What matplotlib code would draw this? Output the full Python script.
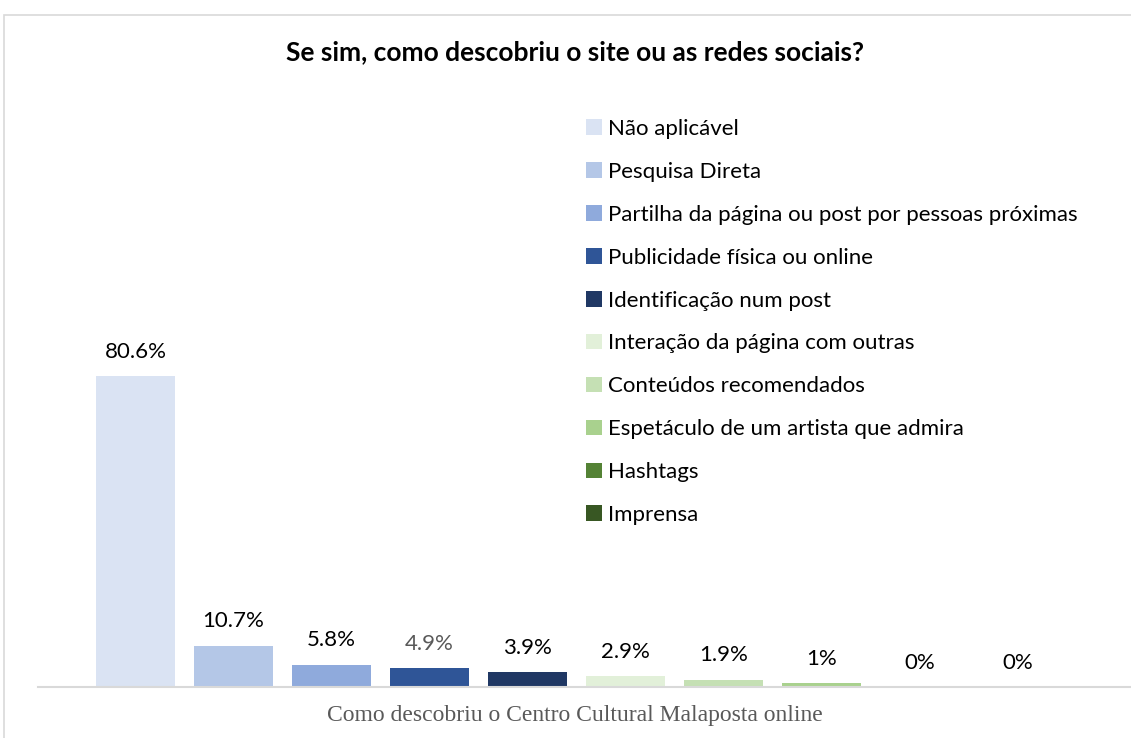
import matplotlib.pyplot as plt
from matplotlib.patches import Rectangle, Patch

# Data
categorias = ['Não aplicável', 'Pesquisa Direta',
              'Partilha da página ou post por pessoas próximas',
              'Publicidade física ou online', 'Identificação num post',
              'Interação da página com outras', 'Conteúdos recomendados',
              'Espetáculo de um artista que admira', 'Hashtags', 'Imprensa']
valores = [80.6, 10.7, 5.8, 4.9, 3.9, 2.9, 1.9, 1.0, 0.0, 0.0]
rotulos = ['80.6%', '10.7%', '5.8%', '4.9%', '3.9%', '2.9%', '1.9%', '1%', '0%', '0%']
cores = ['#DAE3F3', '#B4C7E7', '#8FAADC', '#2F5597', '#203864',
         '#E2F0D9', '#C5E0B4', '#A9D18E', '#548235', '#385723']
cores_rotulo = ['#000000', '#000000', '#000000', '#595959', '#000000',
                '#000000', '#000000', '#000000', '#000000', '#000000']

W, H = 1131, 738
fig = plt.figure(figsize=(W / 100, H / 100), dpi=100)
plt.rcParams['font.family'] = ['Lato', 'DejaVu Sans']

# outer chart border
fig.patches.append(Rectangle((4 / W, -0.1), 1.2, (738 - 15) / H + 0.1,
                             transform=fig.transFigure, fill=False,
                             edgecolor='#D9D9D9', linewidth=1.2))

# axes: left at 38px, baseline at 687px, top at 100px
ax = fig.add_axes([38 / W, (H - 687) / H, (W - 38) / W, (687 - 100) / H])
ax.set_facecolor('none')
pos = list(range(len(valores)))
ax.bar(pos, valores, width=0.806, color=cores)
ax.set_xlim((38 - 135.5) / 98, (W - 135.5) / 98)
ax.set_ylim(0, (687 - 100) / 3.855)

for x, v, r, c in zip(pos, valores, rotulos, cores_rotulo):
    ax.annotate(r, (x, v), xytext=(0, 17.5), textcoords='offset points',
                ha='center', va='center', fontsize=16, color=c)

for s in ['top', 'right', 'left']:
    ax.spines[s].set_visible(False)
ax.spines['bottom'].set_color('#D9D9D9')
ax.spines['bottom'].set_linewidth(1.5)
ax.set_xticks([])
ax.set_yticks([])

handles = [Patch(facecolor=c, edgecolor='none') for c in cores]
fig.legend(handles, categorias, loc='upper left',
           bbox_to_anchor=(566 / W, (H - 99) / H), frameon=False,
           fontsize=16, handlelength=0.7, handleheight=0.7,
           handletextpad=0.3, labelspacing=1.03)

fig.text(575 / W, 1 - 52 / H, 'Se sim, como descobriu o site ou as redes sociais?',
         ha='center', va='center', fontsize=19, fontweight='bold')
fig.text(575 / W, 1 - 716 / H, 'Como descobriu o Centro Cultural Malaposta online',
         ha='center', va='center', fontsize=17, color='#595959',
         family='Liberation Serif')

fig.savefig('out.png', dpi=100)
